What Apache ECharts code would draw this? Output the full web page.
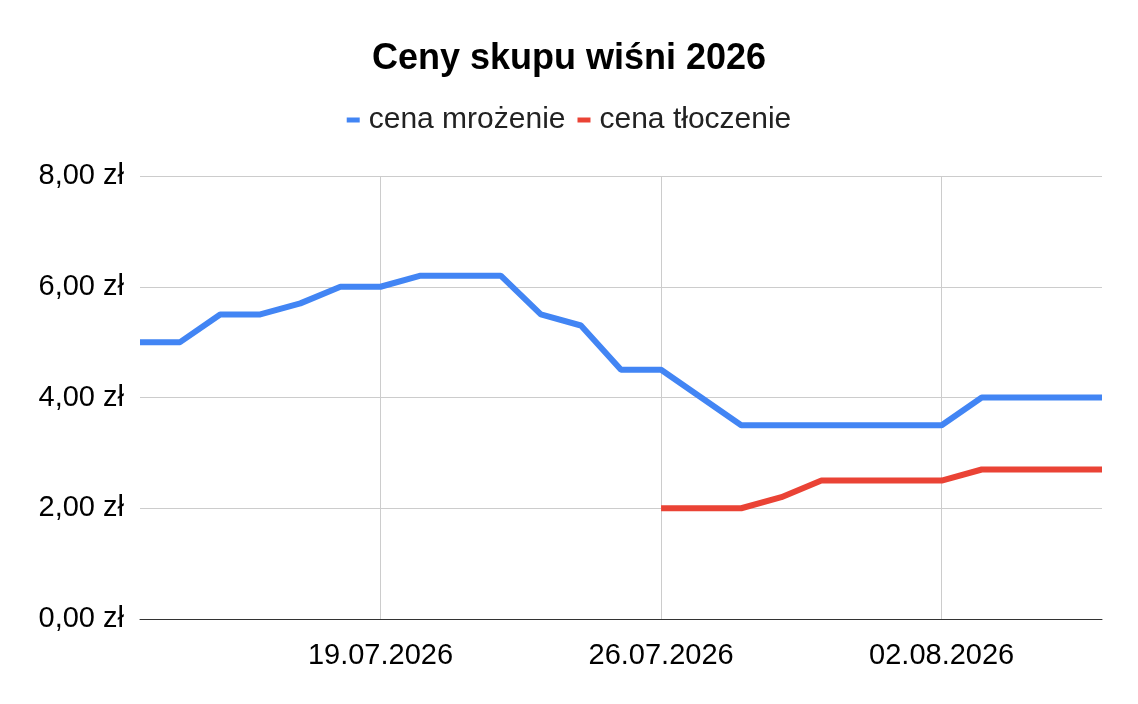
<!DOCTYPE html>
<html>
<head>
<meta charset="utf-8">
<script src="https://cdn.jsdelivr.net/npm/echarts@6/dist/echarts.min.js"></script>
<style>
html,body{margin:0;padding:0;background:#fff;}
#chart{width:1138px;height:704px;}
</style>
</head>
<body>
<div id="chart"></div>
<script>
// daty (13.07 - 06.08)
var dates = ['13.07.2026','14.07.2026','15.07.2026','16.07.2026','17.07.2026','18.07.2026','19.07.2026',
	'20.07.2026','21.07.2026','22.07.2026','23.07.2026','24.07.2026','25.07.2026','26.07.2026',
	'27.07.2026','28.07.2026','29.07.2026','30.07.2026','31.07.2026','01.08.2026','02.08.2026',
	'03.08.2026','04.08.2026','05.08.2026','06.08.2026'];
// cena mrożenie
var cenaMrozenie = [5.0,5.0,5.5,5.5,5.7,6.0,6.0,6.2,6.2,6.2,5.5,5.3,4.5,4.5,4.0,3.5,3.5,3.5,3.5,3.5,3.5,4.0,4.0,4.0,4.0];
// cena tłoczenie (od 26.07)
var cenaTloczenie = [null,null,null,null,null,null,null,null,null,null,null,null,null,
	2.0,2.0,2.0,2.2,2.5,2.5,2.5,2.5,2.7,2.7,2.7,2.7];
// etykiety osi X
var shownDates = ['19.07.2026','26.07.2026','02.08.2026'];

var chart = echarts.init(document.getElementById('chart'));
var font = 'Liberation Sans, Arial, sans-serif';
function showIdx(i, v) { return shownDates.indexOf(v) >= 0; }

var option = {
	title: {
		text: 'Ceny skupu wiśni 2026',
		left: 'center', top: 36,
		textStyle: {fontFamily: font, fontSize: 36, fontWeight: 'bold', color: '#000'}
	},
	legend: {
		top: 100, left: 'center',
		itemWidth: 13, itemHeight: 5, itemGap: 12,
		icon: 'rect',
		textStyle: {fontFamily: font, fontSize: 30, color: '#222', padding: [0, 0, 0, 4]},
		data: ['cena mrożenie','cena tłoczenie']
	},
	grid: {left: 140, right: 36, top: 176, bottom: 85, containLabel: false},
	xAxis: {
		type: 'category',
		data: dates,
		boundaryGap: false,
		axisLine: {lineStyle: {color: '#333', width: 1}},
		axisTick: {show: false},
		axisLabel: {interval: showIdx, fontFamily: font, fontSize: 29, color: '#000', margin: 22},
		splitLine: {show: true, interval: showIdx, lineStyle: {color: '#ccc', width: 1}}
	},
	yAxis: {
		type: 'value',
		min: 0, max: 8, interval: 2,
		axisLine: {show: false},
		axisTick: {show: false},
		axisLabel: {
			fontFamily: font, fontSize: 29, color: '#000', margin: 16,
			formatter: function(v) { return v.toFixed(2).replace('.', ',') + ' zł'; }
		},
		splitLine: {lineStyle: {color: '#ccc', width: 1}}
	},
	series: [
		{
			name: 'cena mrożenie', type: 'line', data: cenaMrozenie,
			showSymbol: false, symbol: 'none',
			lineStyle: {width: 6, color: '#4285f4'}, itemStyle: {color: '#4285f4'}
		},
		{
			name: 'cena tłoczenie', type: 'line', data: cenaTloczenie,
			showSymbol: false, symbol: 'none',
			lineStyle: {width: 6, color: '#ea4335'}, itemStyle: {color: '#ea4335'}
		}
	],
	animation: false
};
chart.setOption(option);
</script>
</body>
</html>
